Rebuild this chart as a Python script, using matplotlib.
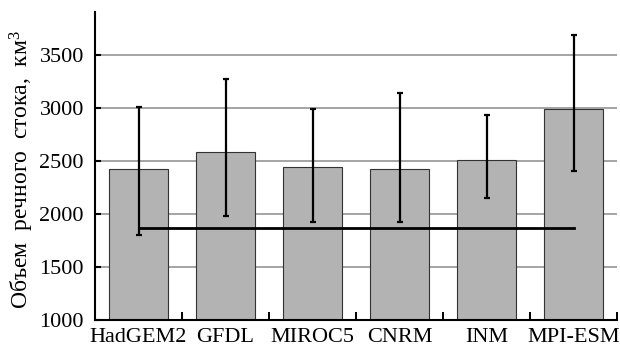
import matplotlib
matplotlib.use("Agg")
import matplotlib.pyplot as plt
import numpy as np

models = ["HadGEM2", "GFDL", "MIROC5", "CNRM", "INM", "MPI-ESM"]
runoff = [2420, 2580, 2440, 2420, 2510, 2990]
err_low = [1800, 1980, 1920, 1920, 2150, 2410]
err_high = [3010, 3270, 2990, 3140, 2930, 3690]
observed = 1870
yticks = [1000, 1500, 2000, 2500, 3000, 3500]
ylabel = "Объем  речного  стока,  км$^3$"

plt.rcParams['font.family'] = ['Liberation Serif', 'DejaVu Serif']
plt.rcParams['mathtext.fontset'] = 'custom'
plt.rcParams['mathtext.rm'] = 'Liberation Serif'
plt.rcParams['mathtext.it'] = 'Liberation Serif:italic'

fig = plt.figure(figsize=(6.2, 3.56), dpi=100)
ax = fig.add_axes([95/620, 36/356, 522/620, 308/356])

x = np.arange(len(models))
vals = np.array(runoff)
lo = vals - np.array(err_low)
hi = np.array(err_high) - vals

ax.set_axisbelow(True)
ax.yaxis.grid(True, color='#8c8c8c', linewidth=1.1)
ax.bar(x, vals, width=0.68, color='#b3b3b3', edgecolor='#333333', linewidth=0.8, zorder=2)
ax.errorbar(x, vals, yerr=[lo, hi], fmt='none', ecolor='black', elinewidth=1.6,
            capsize=2.4, capthick=1.6, zorder=3)
ax.plot([x[0], x[-1]], [observed, observed], color='black', linewidth=2.0, zorder=4)

ax.set_xlim(-0.5, len(models) - 0.5)
ax.set_ylim(1000, 3905)
ax.set_yticks(yticks)
ax.set_yticklabels([str(v) for v in yticks], fontsize=16)
ax.set_xticks(x)
ax.set_xticklabels(models, fontsize=16)
ax.set_xticks(np.arange(0.5, len(models), 1.0), minor=True)
ax.tick_params(axis='x', which='major', length=0, pad=6)
ax.tick_params(axis='x', which='minor', direction='in', length=6, width=1.4)
ax.tick_params(axis='y', which='major', direction='in', length=4, width=1.5, pad=8)
ax.set_ylabel(ylabel, fontsize=17)
ax.yaxis.set_label_coords(-0.113, 0.49)

for s in ['top', 'right']:
    ax.spines[s].set_visible(False)
for s in ['left', 'bottom']:
    ax.spines[s].set_linewidth(1.5)

fig.savefig("out.png", dpi=100)
